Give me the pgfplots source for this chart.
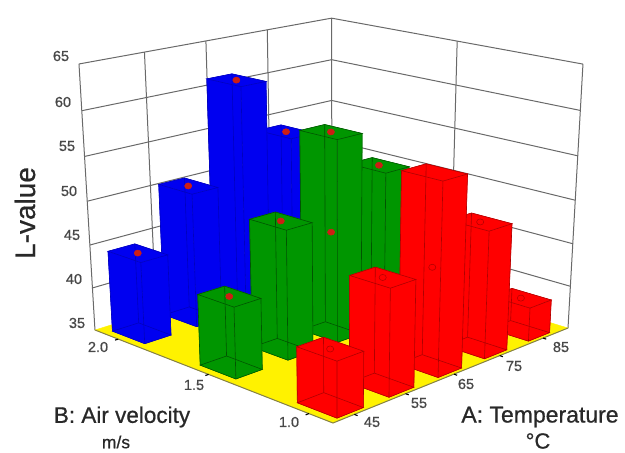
\documentclass[border=0pt]{standalone}
\usepackage{fontspec}
\setmainfont{Liberation Sans}
\newfontfamily\semib[FakeBold=0.7]{Liberation Sans}
\usepackage{pgfplots}
\pgfplotsset{compat=1.18}
\definecolor{bblue}{RGB}{0,0,240}
\definecolor{eblue}{RGB}{0,0,190}
\definecolor{bgreen}{RGB}{0,150,0}
\definecolor{egreen}{RGB}{0,85,0}
\definecolor{bred}{RGB}{255,0,0}
\definecolor{ered}{RGB}{175,0,0}
\definecolor{grid}{RGB}{105,105,105}
\definecolor{txt}{RGB}{40,40,40}
\definecolor{dotc}{RGB}{205,30,20}
% Raw polygon or line in axis-fraction coordinates (u, v, w)
\newcommand{\Raw}[2]{%
  \addplot[#1] table[row sep=\\,
    x expr={PX(\thisrow{u},\thisrow{v},\thisrow{w})},
    y expr={PY(\thisrow{u},\thisrow{v},\thisrow{w})}] {u v w\\ #2};}
% Polygon belonging to the bar at A=#1, B=#2, height L=#3
\newcommand{\Poly}[5]{%
  \addplot[#4] table[row sep=\\,
    x expr={PX((#1-41)/50+0.05*\thisrow{s},0.09+0.79*(#2-1)+0.075*\thisrow{t},\thisrow{h}*(#3-35)/30)},
    y expr={PY((#1-41)/50+0.05*\thisrow{s},0.09+0.79*(#2-1)+0.075*\thisrow{t},\thisrow{h}*(#3-35)/30)}]
    {s t h\\ #5};}
\newcommand{\BarBox}[5]{%
  \Poly{#1}{#2}{#3}{fill=#4,draw=#4,line width=0.4pt}{-1 -1 0\\ -1 1 0\\ -1 1 1\\ -1 -1 1\\ -1 -1 0\\}%
  \Poly{#1}{#2}{#3}{fill=#4,draw=#4,line width=0.4pt}{-1 -1 0\\ 1 -1 0\\ 1 -1 1\\ -1 -1 1\\ -1 -1 0\\}%
  \Poly{#1}{#2}{#3}{fill=#4,draw=#4,line width=0.4pt}{-1 -1 1\\ 1 -1 1\\ 1 1 1\\ -1 1 1\\ -1 -1 1\\}%
  \Poly{#1}{#2}{#3}{draw=#5,line width=0.6pt}{-1 -1 0\\ 1 -1 0\\ 1 1 0\\ -1 1 0\\ -1 -1 0\\}%
  \Poly{#1}{#2}{#3}{draw=#5,line width=0.6pt}{-1 -1 1\\ 1 -1 1\\ 1 1 1\\ -1 1 1\\ -1 -1 1\\}%
  \Poly{#1}{#2}{#3}{draw=#5,line width=0.6pt}{-1 -1 0\\ -1 -1 1\\}%
  \Poly{#1}{#2}{#3}{draw=#5,line width=0.6pt}{1 -1 0\\ 1 -1 1\\}%
  \Poly{#1}{#2}{#3}{draw=#5,line width=0.6pt}{-1 1 0\\ -1 1 1\\}%
  \Poly{#1}{#2}{#3}{draw=#5,line width=0.6pt}{1 1 0\\ 1 1 1\\}%
}
\newcommand{\BarDot}[5]{%
  \Poly{#1}{#2}{#3}{only marks,mark=*,mark size=3.6pt,mark options={fill=#4,draw=#5,line width=0.5pt,yscale=0.85}}{0 0 1\\}%
}
\begin{document}
\begin{tikzpicture}[
  declare function={
    DD(\x,\y,\z)=1+0.1484*\x+0.1394*\y-0.0702*\z;
    PX(\x,\y,\z)=(333+319.3*\x-224.8*\y-23.75*\z)/DD(\x,\y,\z);
    PY(\x,\y,\z)=(423-46.3*\x-47*\y-307.6*\z)/DD(\x,\y,\z);
  }]
\begin{axis}[
  scale only axis, width=625pt, height=453pt,
  xmin=0, xmax=625, ymin=0, ymax=453, y dir=reverse,
  axis lines=none, clip=false]
\path (axis cs:0,0) rectangle (axis cs:625,453);
% walls: horizontal lines at L = 35 ... 65
\Raw{draw=grid,line width=1pt}{0 1 0.16667\\ 1 1 0.16667\\ 1 0 0.16667\\}
\Raw{draw=grid,line width=1pt}{0 1 0.33333\\ 1 1 0.33333\\ 1 0 0.33333\\}
\Raw{draw=grid,line width=1pt}{0 1 0.5\\ 1 1 0.5\\ 1 0 0.5\\}
\Raw{draw=grid,line width=1pt}{0 1 0.66667\\ 1 1 0.66667\\ 1 0 0.66667\\}
\Raw{draw=grid,line width=1pt}{0 1 0.83333\\ 1 1 0.83333\\ 1 0 0.83333\\}
\Raw{draw=grid,line width=1pt}{0 1 1\\ 1 1 1\\ 1 0 1\\}
% walls: vertical lines
\Raw{draw=grid,line width=1pt}{0 1 0\\ 0 1 1\\}
\Raw{draw=grid,line width=1pt}{0.235 1 0\\ 0.235 1 1\\}
\Raw{draw=grid,line width=1pt}{0.47 1 0\\ 0.47 1 1\\}
\Raw{draw=grid,line width=1pt}{0.72 1 0\\ 0.72 1 1\\}
\Raw{draw=grid,line width=1pt}{1 1 0\\ 1 1 1\\}
\Raw{draw=grid,line width=1pt}{1 0.47 0\\ 1 0.47 1\\}
\Raw{draw=grid,line width=1pt}{1 0 0\\ 1 0 1\\}
% floor
\Raw{fill=yellow,draw=yellow}{0 0 0\\ 1 0 0\\ 1 1 0\\ 0 1 0\\ 0 0 0\\}
\Raw{draw=black!55!yellow,line width=1pt}{0 1 0\\ 0 0 0\\ 1 0 0\\}
% ticks
\Raw{draw=black,line width=1.1pt}{0 0.09 0\\ -0.012 0.09 0\\}
\Raw{draw=black,line width=1.1pt}{0 0.49 0\\ -0.012 0.49 0\\}
\Raw{draw=black,line width=1.1pt}{0 0.89 0\\ -0.012 0.89 0\\}
\Raw{draw=black,line width=1.1pt}{0.08 0 0\\ 0.08 -0.012 0\\}
\Raw{draw=black,line width=1.1pt}{0.28 0 0\\ 0.28 -0.012 0\\}
\Raw{draw=black,line width=1.1pt}{0.48 0 0\\ 0.48 -0.012 0\\}
\Raw{draw=black,line width=1.1pt}{0.68 0 0\\ 0.68 -0.012 0\\}
\Raw{draw=black,line width=1.1pt}{0.88 0 0\\ 0.88 -0.012 0\\}
% B = 2.0 row
\BarBox{75}{2.0}{54.0}{bblue}{eblue} \BarDot{75}{2.0}{54.0}{dotc}{dotc}
\BarBox{65}{2.0}{61.2}{bblue}{eblue} \BarDot{65}{2.0}{61.2}{dotc}{dotc}
\BarBox{55}{2.0}{50.5}{bblue}{eblue} \BarDot{55}{2.0}{50.5}{dotc}{dotc}
\BarBox{45}{2.0}{44.4}{bblue}{eblue} \BarDot{45}{2.0}{44.4}{dotc}{dotc}
% B = 1.5 row
\BarBox{75}{1.5}{52.8}{bgreen}{egreen} \BarDot{75}{1.5}{52.8}{dotc}{dotc}
\BarBox{65}{1.5}{57.9}{bgreen}{egreen} \BarDot{65}{1.5}{57.9}{dotc}{dotc}
\BarDot{65}{1.5}{46.7}{dotc}{dotc}
\BarBox{55}{1.5}{49.6}{bgreen}{egreen} \BarDot{55}{1.5}{49.6}{dotc}{dotc}
\BarBox{45}{1.5}{43.0}{bgreen}{egreen} \BarDot{45}{1.5}{43.0}{dotc}{dotc}
% B = 1.0 row
\BarBox{85}{1.0}{38.9}{bred}{ered} \BarDot{85}{1.0}{38.9}{bred}{ered}
\BarBox{75}{1.0}{49.4}{bred}{ered} \BarDot{75}{1.0}{49.4}{bred}{ered}
\BarBox{65}{1.0}{56.3}{bred}{ered} \BarDot{65}{1.0}{46.1}{bred}{ered}
\BarBox{55}{1.0}{46.8}{bred}{ered} \BarDot{55}{1.0}{46.8}{bred}{ered}
\BarBox{45}{1.0}{41.1}{bred}{ered} \BarDot{45}{1.0}{41.1}{bred}{ered}
% labels
\begin{scope}[every node/.style={text=txt!85!white,font=\semib\fontsize{14.5}{15}\selectfont,inner sep=0pt}]
\node at (axis cs:61,56) {65};
\node at (axis cs:63,102) {60};
\node at (axis cs:67,146) {55};
\node at (axis cs:69,191) {50};
\node at (axis cs:72,235) {45};
\node at (axis cs:74,279) {40};
\node at (axis cs:77,323) {35};
\node at (axis cs:98,347) {2.0};
\node at (axis cs:194,385) {1.5};
\node at (axis cs:289,422) {1.0};
\node at (axis cs:372,422) {45};
\node at (axis cs:419,403) {55};
\node at (axis cs:466,384) {65};
\node at (axis cs:514,366) {75};
\node at (axis cs:561,347) {85};
\end{scope}
\begin{scope}[every node/.style={text=txt,inner sep=0pt}]
\node[rotate=90,font=\semib\fontsize{28}{30}\selectfont] at (axis cs:25,213) {L-value};
\node[font=\semib\fontsize{22.5}{24}\selectfont] at (axis cs:122,417) {B: Air velocity};
\node[font=\semib\fontsize{17.5}{19}\selectfont] at (axis cs:116,442) {m/s};
\node[font=\semib\fontsize{23}{24}\selectfont] at (axis cs:540,417) {A: Temperature};
\node[font=\semib\fontsize{22}{24}\selectfont] at (axis cs:538,441) {°C};
\end{scope}
\end{axis}
\end{tikzpicture}
\end{document}
